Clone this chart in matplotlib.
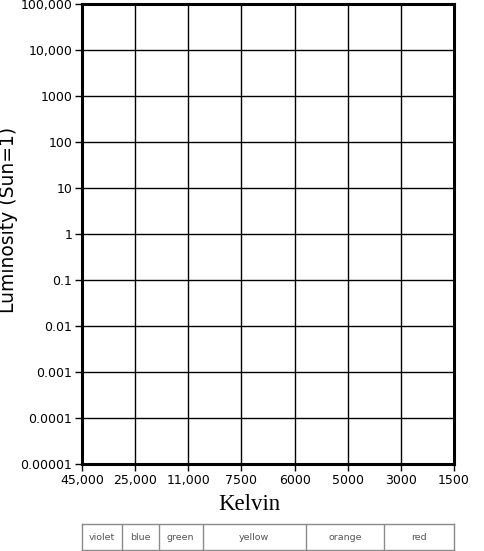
import matplotlib
matplotlib.use("Agg")
import matplotlib.pyplot as plt
import numpy as np

# ---- data ----
temp_labels = ["45,000", "25,000", "11,000", "7500", "6000", "5000", "3000", "1500"]
lum_values = [1e-5, 1e-4, 1e-3, 1e-2, 1e-1, 1, 10, 100, 1000, 10000, 100000]
lum_labels = ["0.00001", "0.0001", "0.001", "0.01", "0.1", "1", "10", "100",
              "1000", "10,000", "100,000"]
band_names = ["violet", "blue", "green", "yellow", "orange", "red"]
band_edges = [0, 0.747, 1.443, 2.271, 4.209, 5.683, 7.0]  # in temperature-axis units

W, H = 485, 551
fig = plt.figure(figsize=(W / 100, H / 100), dpi=100)
fig.patch.set_facecolor("white")

def px_axes(l, t, r, b):
    return fig.add_axes([l / W, 1 - b / H, (r - l) / W, (b - t) / H])

ax = px_axes(82, 4, 454, 464)
x = np.arange(len(temp_labels))
ax.set_xlim(x[0], x[-1])
ax.set_yscale("log")
ax.set_ylim(lum_values[0], lum_values[-1])
ax.set_xticks(x)
ax.set_xticklabels(temp_labels, fontsize=9, family="DejaVu Sans")
ax.set_yticks(lum_values)
ax.set_yticklabels(lum_labels, fontsize=9, family="DejaVu Sans")
ax.yaxis.set_minor_locator(matplotlib.ticker.NullLocator())
ax.tick_params(axis="both", direction="out", length=5, width=1, color="black", pad=2)
for xi in x[1:-1]:
    ax.axvline(xi, color="black", lw=1)
for yv in lum_values[1:-1]:
    ax.axhline(yv, color="black", lw=1)
for s in ax.spines.values():
    s.set_linewidth(2.2)
    s.set_color("black")

fig.text(9 / W, 1 - 220 / H, "Luminosity (Sun=1)", rotation=90, fontsize=13.5,
         family="DejaVu Sans", ha="center", va="center")
fig.text(249 / W, 1 - 505 / H, "Kelvin", fontsize=16.5, family="Liberation Serif",
         ha="center", va="center")

# colour band strip
bx = px_axes(82, 524, 454, 550)
bx.set_xlim(band_edges[0], band_edges[-1])
bx.set_ylim(0, 1)
bx.set_xticks([])
bx.set_yticks([])
for s in bx.spines.values():
    s.set_color("#8a8a8a")
    s.set_linewidth(1)
for e in band_edges[1:-1]:
    bx.axvline(e, color="#8a8a8a", lw=1)
for i, name in enumerate(band_names):
    c = (band_edges[i] + band_edges[i + 1]) / 2
    bx.text(c, 0.5, name, ha="center", va="center", fontsize=6.8,
            family="DejaVu Sans", color="#555555")

fig.savefig("out.png", dpi=100, facecolor="white")
